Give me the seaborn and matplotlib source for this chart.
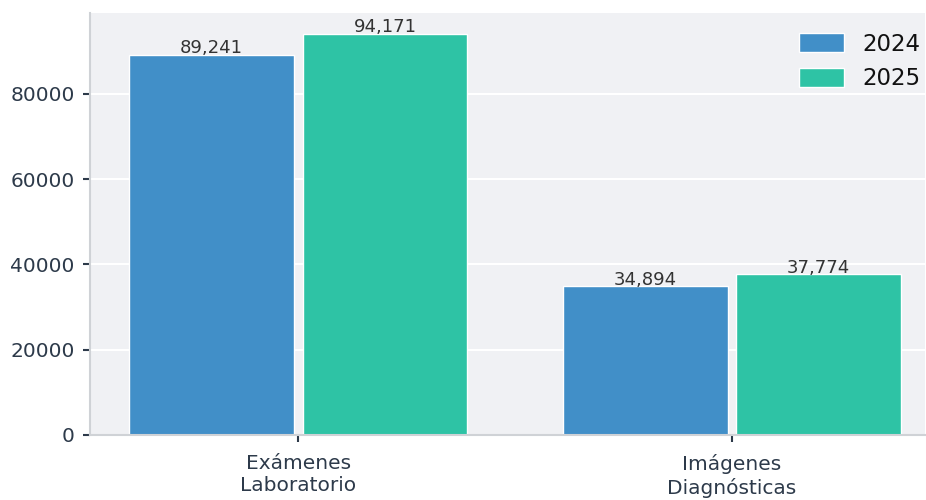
import pandas as pd
import matplotlib
matplotlib.use('Agg')
import matplotlib.pyplot as plt
import seaborn as sns

# Data
categorias = ['Exámenes\nLaboratorio', 'Imágenes\nDiagnósticas']
anios = ['2024', '2025']
valores_2024 = [89241, 34894]
valores_2025 = [94171, 37774]
colores = ['#418fc8', '#2ec3a5']

df = pd.DataFrame({
    'categoria': categorias * 2,
    'anio': [anios[0]] * len(categorias) + [anios[1]] * len(categorias),
    'valor': valores_2024 + valores_2025,
})

sns.set_style('darkgrid', {'axes.facecolor': '#f0f1f4', 'grid.color': 'white'})
plt.rcParams['font.family'] = ['DejaVu Sans']

fig = plt.figure(figsize=(9.26, 5), dpi=100)
ax = fig.add_axes([90 / 926, 65 / 500, 835 / 926, 422 / 500])

sns.barplot(data=df, x='categoria', y='valor', hue='anio', palette=colores,
            gap=0.05, saturation=1, ax=ax)

for cont in ax.containers:
    ax.bar_label(cont, labels=[f'{v:,.0f}' for v in cont.datavalues],
                 fontsize=13, color='#333333', padding=-2)

ax.set_ylim(0, 99000)
ax.set_xlim(-0.48, 1.445)
ax.set_xlabel('')
ax.set_ylabel('')
ax.grid(axis='x', visible=False)
ax.grid(axis='y', linewidth=1.5)
ax.tick_params(axis='both', labelsize=14.5, colors='#2d3a4a', length=5, width=1.5,
               bottom=True, left=True)
ax.tick_params(axis='y', pad=6)
ax.tick_params(axis='x', pad=9)

for side in ['top', 'right']:
    ax.spines[side].set_visible(False)
for side in ['left', 'bottom']:
    ax.spines[side].set_visible(True)
    ax.spines[side].set_color('#cfd2d6')
    ax.spines[side].set_linewidth(1.5)

leg = ax.legend(title=None, frameon=False, fontsize=16.5, loc='upper right',
                bbox_to_anchor=(1.006, 0.975), handlelength=2.0, handleheight=0.9,
                borderaxespad=0.0, labelspacing=0.5)
for t in leg.get_texts():
    t.set_color('#111111')

fig.savefig('out.png', dpi=100)
